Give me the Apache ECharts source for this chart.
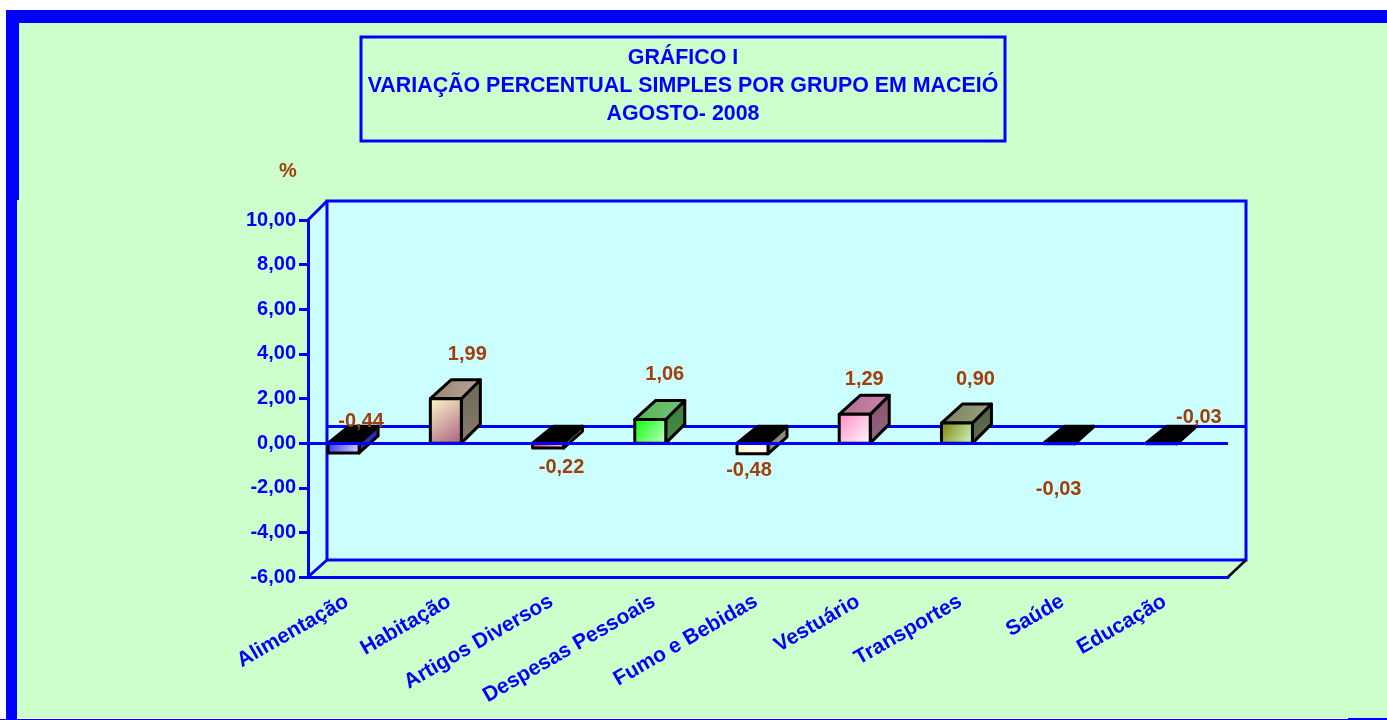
<!DOCTYPE html>
<html><head><meta charset="utf-8">
<style>html,body{margin:0;padding:0;background:#fff}#c{width:1387px;height:720px}</style>
<script src="https://cdn.jsdelivr.net/npm/echarts@6/dist/echarts.min.js"></script>
</head><body><div id="c"></div>
<script>
const categories = ['Alimentação','Habitação','Artigos Diversos','Despesas Pessoais','Fumo e Bebidas','Vestuário','Transportes','Saúde','Educação'];
const values = [-0.44,1.99,-0.22,1.06,-0.48,1.29,0.90,-0.03,-0.03];
const yTicks = {min:-6,max:10,interval:2};
const titleLines = ['GRÁFICO I','VARIAÇÃO PERCENTUAL SIMPLES POR GRUPO EM MACEIÓ','AGOSTO- 2008'];

// styling tables (not data)
const faceFrom = ['#3030ee','#ffffcc','#ff3333','#00ff00','#ffffcc','#ff88c4','#808000','#ffffff','#ffffff'];
const faceTo   = ['#e0e0ff','#a85a80','#ffcccc','#ccffcc','#ffffff','#ffffff','#ccffcc','#ffffff','#ffffff'];
const topFrom  = ['#000','#8f8170','#000','#4fb050','#000','#b06a90','#757a55','#000','#000'];
const topTo    = ['#000','#bfa99a','#000','#78c878','#000','#cc88aa','#a0a888','#000','#000'];
const sideFrom = ['#1a1a99','#6a6a50','#806060','#347a34','#807860','#86506c','#4c5a38','#555','#555'];
const sideTo   = ['#4444cc','#8c7a74','#c0b0a0','#4c904c','#a09a90','#966880','#66745a','#555','#555'];
const labelNudge = [[2,-21.5],[6,-88.5],[-2,24],[-1,-69],[-19,27],[-6,-64],[3,-64],[-16,46],[22,-26]];

const BLUE='#0000ff', GREEN='#ccffcc', WALL='#ccffff', BROWN='#a33d0a', FONT='"Liberation Sans",Arial,sans-serif';
const G={left:308,top:220,width:920,height:357};
const DX=19, DTOP=19, DBOT=17, LW=3;

function grad(a,b){return new echarts.graphic.LinearGradient(0,0,1,1,[{offset:0,color:a},{offset:1,color:b}]);}
function poly(points,fill){return {type:'polygon',shape:{points},style:{fill,stroke:'#000',lineWidth:3,lineJoin:'round'}};}

function renderCube(params,api){
  const i=api.value(0), v=api.value(1);
  const base=api.coord([i,0]), top=api.coord([i,v]);
  const xr=base[0], xl=xr-31, dx=20, dy=v>=0?19:17;
  const y0=base[1], yV=top[1];
  const upperY=Math.min(y0,yV), lowerY=Math.max(y0,yV);
  return {type:'group',children:[
    poly([[xr,upperY],[xr+dx-1,upperY-dy],[xr+dx-1,lowerY-dy],[xr,lowerY]],grad(sideFrom[i],sideTo[i])),
    poly([[xl,upperY],[xl+dx+1,upperY-dy],[xr+dx-1,upperY-dy],[xr,upperY]],grad(topFrom[i],topTo[i])),
    poly([[xl,upperY],[xr,upperY],[xr,lowerY],[xl,lowerY]],grad(faceFrom[i],faceTo[i])),
    {type:'text',z2:5,style:{text:v.toFixed(2).replace('.',','),x:base[0]+labelNudge[i][0],y:base[1]+labelNudge[i][1],
      align:'center',verticalAlign:'middle',fill:BROWN,font:'bold 20px '+FONT}}
  ]};
}

const L=G.left,T=G.top,R=G.left+G.width,B=G.top+G.height;
const bl=L+DX, bt=T-DTOP, br=R+18, bb=B-DBOT;
function line(x1,y1,x2,y2,c,w){return {type:'line',z:-1,shape:{x1,y1,x2,y2},style:{stroke:c||BLUE,lineWidth:w||LW}};}
const chrome=[
  {type:'rect',z:-5,shape:{x:19,y:23,width:1368,height:177},style:{fill:GREEN}},
  {type:'rect',z:-5,shape:{x:17,y:200,width:1370,height:518},style:{fill:GREEN}},
  {type:'rect',z:-4,shape:{x:6,y:10,width:1381,height:13},style:{fill:BLUE}},
  {type:'rect',z:-4,shape:{x:6,y:10,width:13,height:190},style:{fill:BLUE}},
  {type:'rect',z:-4,shape:{x:6,y:200,width:11,height:519},style:{fill:BLUE}},
  {type:'rect',z:-4,shape:{x:0,y:719,width:1387,height:1},style:{fill:BLUE}},
  {type:'rect',z:-4,shape:{x:1348,y:718,width:39,height:2},style:{fill:BLUE}},
  {type:'polygon',z:-3,shape:{points:[[L,T],[bl,bt],[bl,bb],[L,B]]},style:{fill:WALL}},
  {type:'rect',z:-3,shape:{x:bl,y:bt,width:br-bl,height:bb-bt},style:{fill:WALL,stroke:BLUE,lineWidth:LW}},
  line(L,T,bl,bt),line(L,B,bl,bb),line(R,B,br,bb,'#000',2.5),
  line(bl,426.5,br,426.5),
  {type:'rect',z:-2,shape:{x:361,y:37,width:644,height:104},style:{fill:GREEN,stroke:BLUE,lineWidth:3}},
  ...titleLines.map((t,k)=>({type:'text',z:1,style:{text:t,x:683,y:58.5+k*28,align:'center',verticalAlign:'middle',fill:BLUE,font:'bold 21.4px '+FONT}})),
  {type:'text',z:1,style:{text:'%',x:288,y:171,align:'center',verticalAlign:'middle',fill:BROWN,font:'bold 20px '+FONT}}
];

const chart=echarts.init(document.getElementById('c'),null,{renderer:'canvas'});
chart.setOption({
  animation:false,
  backgroundColor:'transparent',
  graphic:{elements:chrome},
  grid:{left:G.left,top:G.top,width:G.width,height:G.height,containLabel:false},
  xAxis:{type:'category',data:categories,
    axisLine:{onZero:false,lineStyle:{color:BLUE,width:LW}},axisTick:{show:false},splitLine:{show:false},
    axisLabel:{interval:0,rotate:30,margin:16,padding:[0,14,0,0],color:BLUE,fontFamily:'Liberation Sans',fontWeight:'bold',fontSize:21}},
  yAxis:{type:'value',min:yTicks.min,max:yTicks.max,interval:yTicks.interval,
    axisLine:{show:true,lineStyle:{color:BLUE,width:LW}},
    axisTick:{show:true,length:9,lineStyle:{color:BLUE,width:LW}},splitLine:{show:false},
    axisLabel:{margin:12,padding:[7,0,0,0],color:BLUE,fontFamily:'Liberation Sans',fontWeight:'bold',fontSize:20,
      formatter:v=>v.toFixed(2).replace('.',',')}},
  series:[{type:'custom',z:3,coordinateSystem:'cartesian2d',renderItem:renderCube,
    data:values.map((v,i)=>[i,v]),encode:{x:0,y:1},clip:false,
    markLine:{silent:true,symbol:'none',z:10,label:{show:false},lineStyle:{color:BLUE,width:LW,type:'solid'},data:[{yAxis:0}]}}]
});
</script></body></html>
